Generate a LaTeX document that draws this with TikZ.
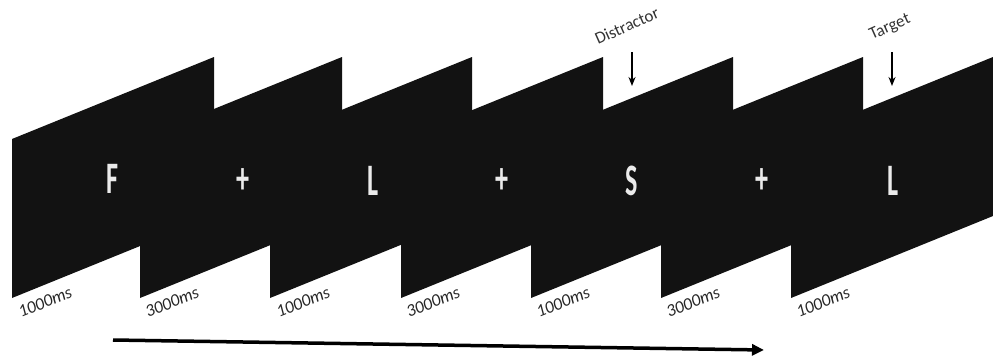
\documentclass[tikz,border=0pt]{standalone}
\usepackage{fontspec}
\setmainfont{Carlito}
\usetikzlibrary{arrows.meta}
\begin{document}
\begin{tikzpicture}[x=1pt,y=1pt,
  panel/.style={fill=black!93,draw=none},
  stim/.style={text=white!92!black,font=\bfseries\fontsize{45}{45}\selectfont,inner sep=0pt},
  dur/.style={font=\itshape\fontsize{17.5}{17.5}\selectfont,rotate=22,anchor=base west,inner sep=0pt,text=black!85},
  evt/.style={font=\fontsize{17}{17}\selectfont,rotate=24,anchor=base west,inner sep=0pt,text=black!80},
  evarrow/.style={line width=1.6pt,-{Stealth[length=9pt,width=7pt]}},
  timearrow/.style={line width=3.5pt,-{Triangle[length=12pt,width=11pt]}}
  ]
\useasboundingbox (0,0) rectangle (993,-362);
% panels
\foreach \L in {12,140,270,401,531,661,791}{
  \fill[panel] (\L,-139) -- (\L+202,-57) -- (\L+202,-216) -- (\L,-298) -- cycle;
}
% stimuli
\node[stim] (s1) at (112,-179) {\scalebox{0.58}[1]{F}};
\node[stim] (s2) at (243,-181) {\scalebox{0.58}[1]{+}};
\node[stim] (s3) at (373,-181) {\scalebox{0.58}[1]{L}};
\node[stim] (s4) at (502,-181) {\scalebox{0.58}[1]{+}};
\node[stim] (s5) at (632,-181) {\scalebox{0.58}[1]{S}};
\node[stim] (s6) at (762,-181) {\scalebox{0.58}[1]{+}};
\node[stim] (s7) at (893,-181) {\scalebox{0.58}[1]{L}};
% durations
\node[dur] (d1) at (21,-318) {1000ms};
\node[dur] (d2) at (148,-318) {3000ms};
\node[dur] (d3) at (279,-318) {1000ms};
\node[dur] (d4) at (409,-318) {3000ms};
\node[dur] (d5) at (539,-318) {1000ms};
\node[dur] (d6) at (669,-318) {3000ms};
\node[dur] (d7) at (799,-318) {1000ms};
% event labels
\node[evt] (dis) at (598,-45) {Distractor};
\node[evt] (tar) at (872,-40) {Target};
\coordinate (disa) at (632,-52);
\coordinate (disb) at (632,-86);
\coordinate (tara) at (892,-52);
\coordinate (tarb) at (892,-86);
\draw[evarrow] (disa) -- (disb);
\draw[evarrow] (tara) -- (tarb);
% time arrow
\coordinate (t0) at (113,-340);
\coordinate (t1) at (764,-350);
\draw[timearrow] (t0) -- (t1);
\end{tikzpicture}
\end{document}
